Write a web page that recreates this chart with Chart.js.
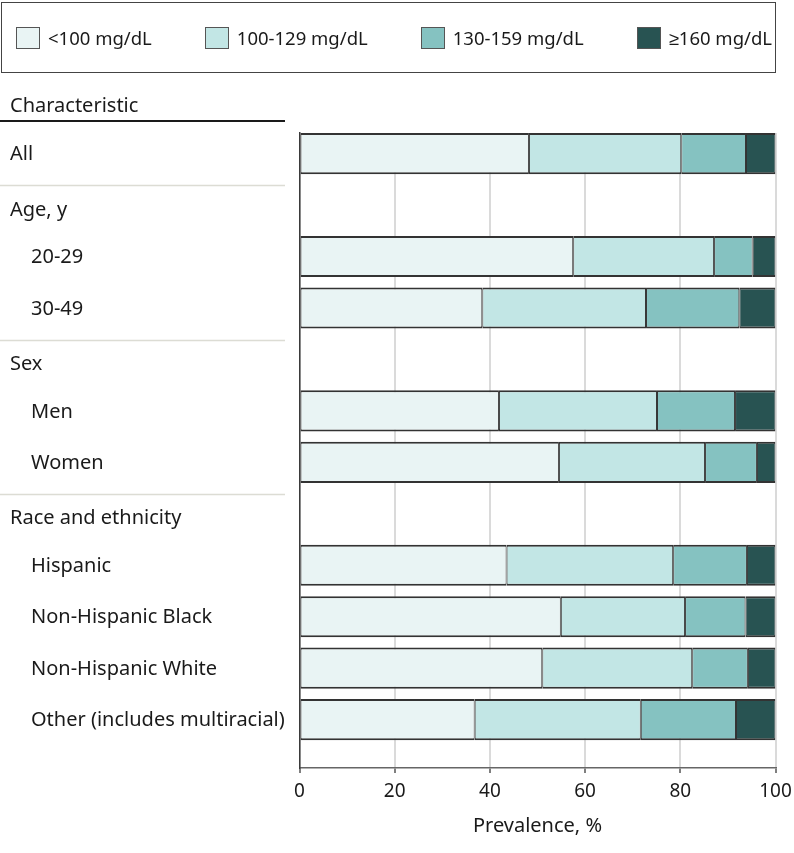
<!DOCTYPE html>
<html>
<head>
<meta charset="utf-8">
<title>LDL cholesterol prevalence</title>
<script src="https://cdn.jsdelivr.net/npm/chart.js@4.4.1/dist/chart.umd.min.js"></script>
<style>
    body { margin: 0; background: #fff; font-family: "Noto Sans", sans-serif; color: #1a1a1a; }
    .wrap { position: relative; width: 794px; height: 853px; }
    .legenda {
        position: absolute; left: 1px; top: 2px; width: 775px; height: 71px;
        box-sizing: border-box; border: 1.5px solid #444;
        display: flex; align-items: center; justify-content: space-between;
        padding: 0 3px 0 14px; font-size: 18.5px;
    }
    .legenda span { display: flex; align-items: center; }
    .legenda i { display: inline-block; width: 24px; height: 22px; box-sizing: border-box; border: 1px solid #555; margin-right: 8px; }
</style>
</head>
<body>
<div class="wrap">
    <div class="legenda"></div>
    <canvas id="grafico" width="794" height="853"></canvas>
</div>
<script>
// linhas da tabela (cabeçalhos de grupo ficam sem barra)
const linhas = ['All', 'Age, y', '20-29', '30-49', 'Sex', 'Men', 'Women', 'Race and ethnicity',
    'Hispanic', 'Non-Hispanic Black', 'Non-Hispanic White', 'Other (includes multiracial)'];
const cabecalhos = [1, 4, 7];
const recuadas = [2, 3, 5, 6, 8, 9, 10, 11];

const faixas = ['<100 mg/dL', '100-129 mg/dL', '130-159 mg/dL', '≥160 mg/dL'];
const cores = ['#e9f4f4', '#c2e6e5', '#85c2c1', '#285352'];

// prevalência (%) por faixa de LDL
const abaixo100 = [48.2, null, 57.5, 38.4, null, 41.9, 54.5, null, 43.5, 54.9, 51.0, 36.8];
const de100a129 = [32.0, null, 29.6, 34.4, null, 33.2, 30.7, null, 35.0, 26.1, 31.5, 34.9];
const de130a159 = [13.6, null, 8.1, 19.6, null, 16.4, 10.9, null, 15.5, 12.7, 11.7, 20.0];
const acima160 = [6.2, null, 4.8, 7.6, null, 8.5, 3.9, null, 6.0, 6.3, 5.8, 8.3];

const xTicks = [0, 20, 40, 60, 80, 100];

const series = [abaixo100, de100a129, de130a159, acima160];

// legenda em HTML
const legenda = document.querySelector('.legenda');
faixas.forEach(function (nome, i) {
    const item = document.createElement('span');
    item.innerHTML = '<i style="background:' + cores[i] + '"></i>' + nome;
    legenda.appendChild(item);
});

function pontos(valores) {
    return valores
        .map(function (v, i) { return { x: v, y: i }; })
        .filter(function (p) { return p.x !== null; });
}

// desenha a coluna de rótulos à esquerda
const rotulosPlugin = {
    id: 'rotulos',
    afterDraw(chart) {
        const ctx = chart.ctx;
        const y = chart.scales.y;
        const topo = chart.chartArea.top;
        ctx.save();
        ctx.fillStyle = '#1a1a1a';
        ctx.font = '20px "Noto Sans"';
        ctx.textBaseline = 'middle';
        ctx.textAlign = 'left';
        ctx.fillText('Characteristic', 10, topo - 27);
        ctx.strokeStyle = '#1a1a1a';
        ctx.lineWidth = 2;
        ctx.beginPath();
        ctx.moveTo(0, topo - 12);
        ctx.lineTo(285, topo - 12);
        ctx.stroke();

        linhas.forEach(function (txt, i) {
            let py = y.getPixelForValue(i) + 1;
            if (cabecalhos.includes(i)) py += 4;
            const px = recuadas.includes(i) ? 31 : 10;
            ctx.fillText(txt, px, py);
        });

        // separadores entre grupos
        ctx.strokeStyle = '#dcdcd4';
        ctx.lineWidth = 1.5;
        [0, 3, 6].forEach(function (i) {
            const py = Math.round(y.getPixelForValue(i + 0.62)) + 0.5;
            ctx.beginPath();
            ctx.moveTo(0, py);
            ctx.lineTo(285, py);
            ctx.stroke();
        });
        ctx.restore();
    }
};

const ctx = document.getElementById('grafico').getContext('2d');
new Chart(ctx, {
    type: 'bar',
    data: {
        datasets: series.map(function (valores, i) {
            return {
                label: faixas[i],
                data: pontos(valores),
                backgroundColor: cores[i],
                borderColor: '#333',
                borderWidth: { top: 2, bottom: 2, left: 1, right: 1 },
                borderSkipped: false,
                barPercentage: 0.8,
                categoryPercentage: 1
            };
        })
    },
    options: {
        indexAxis: 'y',
        responsive: false,
        animation: false,
        layout: { padding: { top: 133, right: 18.5, bottom: 0, left: 0 } },
        plugins: { legend: { display: false }, tooltip: { enabled: false } },
        scales: {
            x: {
                type: 'linear',
                stacked: true,
                min: 0,
                max: 100,
                afterBuildTicks: function (scale) {
                    scale.ticks = xTicks.map(function (v) { return { value: v }; });
                },
                afterFit: function (scale) {
                    scale.height = 85;
                    scale.paddingRight = 0; // o rótulo "100" pode sair um pouco da área
                },
                grid: { color: '#dadada', lineWidth: 2, tickLength: 5, tickColor: '#555', tickWidth: 1.5 },
                border: { color: '#666', width: 1.5 },
                ticks: { color: '#1a1a1a', font: { family: 'Noto Sans', size: 19 }, padding: 7 },
                title: {
                    display: true,
                    text: 'Prevalence, %',
                    color: '#1a1a1a',
                    font: { family: 'Noto Sans', size: 20 },
                    padding: { top: 0, bottom: 15 }
                }
            },
            y: {
                type: 'linear',
                stacked: true,
                reverse: true,
                offset: false,
                min: -0.4,
                max: 11.94,
                // um tick por linha, assim a largura da barra segue o espaçamento das linhas
                afterBuildTicks: function (scale) {
                    scale.ticks = linhas.map(function (l, i) { return { value: i }; });
                },
                afterFit: function (scale) { scale.width = 299.5; },
                grid: { display: false },
                border: { color: '#3a3a3a', width: 1.5 },
                ticks: { display: false }
            }
        }
    },
    plugins: [rotulosPlugin]
});
</script>
</body>
</html>
